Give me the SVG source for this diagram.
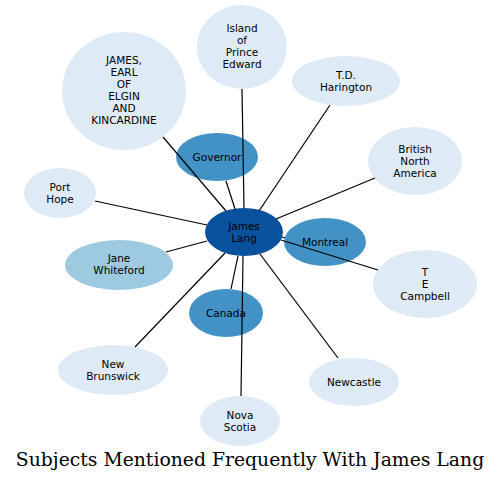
<svg xmlns="http://www.w3.org/2000/svg" width="501" height="482" viewBox="0 0 501 482">
<style>
.n text{font-family:"DejaVu Sans",sans-serif;font-size:10.5px;fill:#000;text-anchor:middle}
.l0{fill:#deebf7}.l1{fill:#9ecae1}.l2{fill:#4292c6}.l3{fill:#08519c}
#edges line{stroke:#000;stroke-width:1.2}
.title{font-family:"DejaVu Serif",serif;font-size:18.8px;text-anchor:middle;fill:#000}
</style>
<rect width="501" height="482" fill="#fff"/>
<g id="n-lang" class="n"><ellipse class="l3" cx="244" cy="232" rx="39" ry="24"/><text x="244" y="230">James</text><text x="244" y="242">Lang</text></g>
<g id="n-governor" class="n"><ellipse class="l2" cx="217" cy="157" rx="41" ry="24"/><text x="217" y="161">Governor</text></g>
<g id="n-montreal" class="n"><ellipse class="l2" cx="325" cy="242" rx="41" ry="24"/><text x="325" y="246">Montreal</text></g>
<g id="n-canada" class="n"><ellipse class="l2" cx="226" cy="313" rx="37" ry="24"/><text x="226" y="317">Canada</text></g>
<g id="n-jane" class="n"><ellipse class="l1" cx="119" cy="265" rx="54" ry="25"/><text x="119" y="262">Jane</text><text x="119" y="274">Whiteford</text></g>
<g id="n-elgin" class="n"><ellipse class="l0" cx="124" cy="91" rx="62" ry="59"/><text x="124" y="64">JAMES,</text><text x="124" y="76">EARL</text><text x="124" y="88">OF</text><text x="124" y="100">ELGIN</text><text x="124" y="112">AND</text><text x="124" y="124">KINCARDINE</text></g>
<g id="n-island" class="n"><ellipse class="l0" cx="242" cy="47" rx="45" ry="42"/><text x="242" y="32">Island</text><text x="242" y="44">of</text><text x="242" y="56">Prince</text><text x="242" y="68">Edward</text></g>
<g id="n-harington" class="n"><ellipse class="l0" cx="346" cy="81" rx="54" ry="25"/><text x="346" y="79">T.D.</text><text x="346" y="91">Harington</text></g>
<g id="n-bna" class="n"><ellipse class="l0" cx="415" cy="161" rx="47" ry="34"/><text x="415" y="153">British</text><text x="415" y="165">North</text><text x="415" y="177">America</text></g>
<g id="n-porthope" class="n"><ellipse class="l0" cx="60" cy="193" rx="36" ry="25"/><text x="60" y="191">Port</text><text x="60" y="203">Hope</text></g>
<g id="n-campbell" class="n"><ellipse class="l0" cx="425" cy="284" rx="52" ry="34"/><text x="425" y="276">T</text><text x="425" y="288">E</text><text x="425" y="300">Campbell</text></g>
<g id="n-newbrunswick" class="n"><ellipse class="l0" cx="113" cy="370" rx="55" ry="25"/><text x="113" y="368">New</text><text x="113" y="380">Brunswick</text></g>
<g id="n-newcastle" class="n"><ellipse class="l0" cx="354" cy="382" rx="45" ry="24"/><text x="354" y="386">Newcastle</text></g>
<g id="n-novascotia" class="n"><ellipse class="l0" cx="240" cy="421" rx="40" ry="25"/><text x="240" y="419">Nova</text><text x="240" y="431">Scotia</text></g>
<g id="edges">
<line x1="244" y1="208" x2="242" y2="89"/>
<line x1="226" y1="211" x2="163" y2="137"/>
<line x1="235" y1="209" x2="226" y2="181"/>
<line x1="259" y1="211" x2="330" y2="105"/>
<line x1="276" y1="219" x2="375" y2="178"/>
<line x1="207" y1="225" x2="95" y2="201"/>
<line x1="282" y1="237" x2="285" y2="238"/>
<line x1="281" y1="240" x2="378" y2="270"/>
<line x1="207" y1="241" x2="166" y2="252"/>
<line x1="238" y1="256" x2="231" y2="289"/>
<line x1="225" y1="253" x2="135" y2="347"/>
<line x1="243" y1="256" x2="241" y2="396"/>
<line x1="260" y1="254" x2="338" y2="358"/>
</g>
<text class="title" x="250" y="466">Subjects Mentioned Frequently With James Lang</text>
</svg>
